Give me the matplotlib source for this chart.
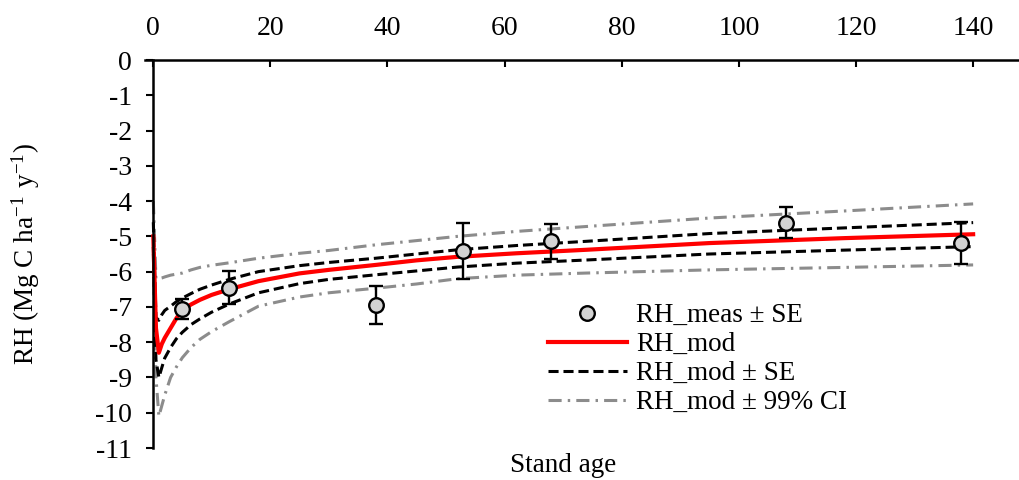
"""Heterotrophic respiration vs stand age: measured points and fitted model with SE / 99% CI bands."""

import numpy as np
import matplotlib
matplotlib.use("Agg")
import matplotlib.pyplot as plt
from matplotlib.lines import Line2D

plt.rcParams['font.family'] = ['Liberation Serif', 'DejaVu Serif']
plt.rcParams['mathtext.fontset'] = 'stix'
plt.rcParams['axes.unicode_minus'] = False

# measured RH with standard errors
meas_age = [5, 13, 38, 53, 68, 108, 138]
meas_rh = [-7.05, -6.45, -6.94, -5.41, -5.14, -4.61, -5.18]
meas_se = [0.28, 0.46, 0.54, 0.80, 0.50, 0.45, 0.60]

# modelled curve and bands
mod_age = [0.05, 0.5, 1, 1.5, 2, 3, 4, 5, 6.5, 8, 10, 13, 18, 25, 30, 38, 45, 52, 62, 74, 95, 118, 140]
rh_mod = [-5.0, -7.6, -8.3, -8.05, -7.88, -7.6, -7.32, -7.08, -6.93, -6.8, -6.66, -6.5, -6.27, -6.05,
          -5.95, -5.81, -5.68, -5.58, -5.48, -5.38, -5.19, -5.05, -4.94]
rh_se_hi = [-4.6, -7.3, -7.38, -7.22, -7.1, -6.98, -6.85, -6.75, -6.62, -6.5, -6.38, -6.22, -6.0, -5.83,
            -5.74, -5.62, -5.5, -5.38, -5.26, -5.14, -4.92, -4.76, -4.61]
rh_se_lo = [-5.3, -8.5, -9.0, -8.72, -8.45, -8.15, -7.9, -7.72, -7.5, -7.34, -7.15, -6.92, -6.6, -6.34,
            -6.22, -6.09, -5.98, -5.87, -5.76, -5.67, -5.5, -5.39, -5.29]
rh_ci_hi = [-4.0, -6.2, -6.2, -6.18, -6.15, -6.1, -6.07, -6.04, -5.95, -5.88, -5.82, -5.75, -5.62, -5.48,
            -5.4, -5.24, -5.12, -5.0, -4.86, -4.72, -4.48, -4.28, -4.08]
rh_ci_lo = [-5.5, -9.0, -10.1, -9.8, -9.5, -9.0, -8.7, -8.44, -8.15, -7.92, -7.7, -7.42, -6.98, -6.72,
            -6.6, -6.47, -6.35, -6.2, -6.1, -6.04, -5.95, -5.88, -5.81]

x_ticks = [0, 20, 40, 60, 80, 100, 120, 140]
y_ticks = list(range(0, -12, -1))

gray = '#8c8c8c'
ci_dash = (4.3, 2.0, 0.8, 2.0)
se_dash = (3.3, 1.6)
fs = 19.5

fig = plt.figure(figsize=(10.2, 4.8), dpi=100)
ax = fig.add_axes([145 / 1020, 1 - 448 / 480, 875 / 1020, 388 / 480])

ax.plot(mod_age, rh_ci_hi, color=gray, lw=2.2, dashes=ci_dash)
ax.plot(mod_age, rh_ci_lo, color=gray, lw=2.2, dashes=ci_dash)
ax.plot(mod_age, rh_se_hi, color='black', lw=2.2, dashes=se_dash)
ax.plot(mod_age, rh_se_lo, color='black', lw=2.2, dashes=se_dash)
ax.plot(mod_age, rh_mod, color='#ff0000', lw=3.0)

ax.errorbar(meas_age, meas_rh, yerr=meas_se, fmt='none', ecolor='black', elinewidth=1.7,
            capsize=5, capthick=1.7, zorder=4)
ax.plot(meas_age, meas_rh, 'o', ms=10.5, mfc='#d3d3d3', mec='black', mew=1.7, zorder=5)

ax.set_xlim(-1.37, 148)
ax.set_ylim(-11, 0)
ax.set_xticks(x_ticks)
ax.set_yticks(y_ticks)
ax.xaxis.tick_top()
ax.spines['left'].set_position(('data', 0))
ax.spines['right'].set_visible(False)
ax.spines['bottom'].set_visible(False)
for s in ('left', 'top'):
    ax.spines[s].set_linewidth(1.8)
ax.tick_params(axis='x', direction='in', length=5, width=1.5, pad=14, labelsize=20)
ax.tick_params(axis='y', direction='out', length=5, width=1.5, pad=10, labelsize=20)

ax.set_ylabel('RH (Mg C ha$^{\\mathregular{-1}}$ y$^{\\mathregular{-1}}$)', fontsize=fs)
ax.yaxis.set_label_coords(-0.118, 0.5)
fig.text(563 / 1020, 1 - 466 / 480, 'Stand age', fontsize=fs, ha='center', va='center')

handles = [
    Line2D([], [], ls='none', marker='o', ms=10.5, mfc='#d3d3d3', mec='black', mew=1.7),
    Line2D([], [], color='#ff0000', lw=3.0),
    Line2D([], [], color='black', lw=2.2, dashes=se_dash),
    Line2D([], [], color=gray, lw=2.2, dashes=ci_dash),
]
labels = ['RH_meas ± SE', 'RH_mod', 'RH_mod ± SE', 'RH_mod ± 99% CI']
ax.legend(handles, labels, loc='upper left', bbox_to_anchor=(548 / 1020, 1 - 303 / 480),
          bbox_transform=fig.transFigure, frameon=False, fontsize=fs, handlelength=2.9,
          handletextpad=0.35, labelspacing=0.15, borderpad=0, borderaxespad=0)

fig.savefig('out.png', dpi=100)
